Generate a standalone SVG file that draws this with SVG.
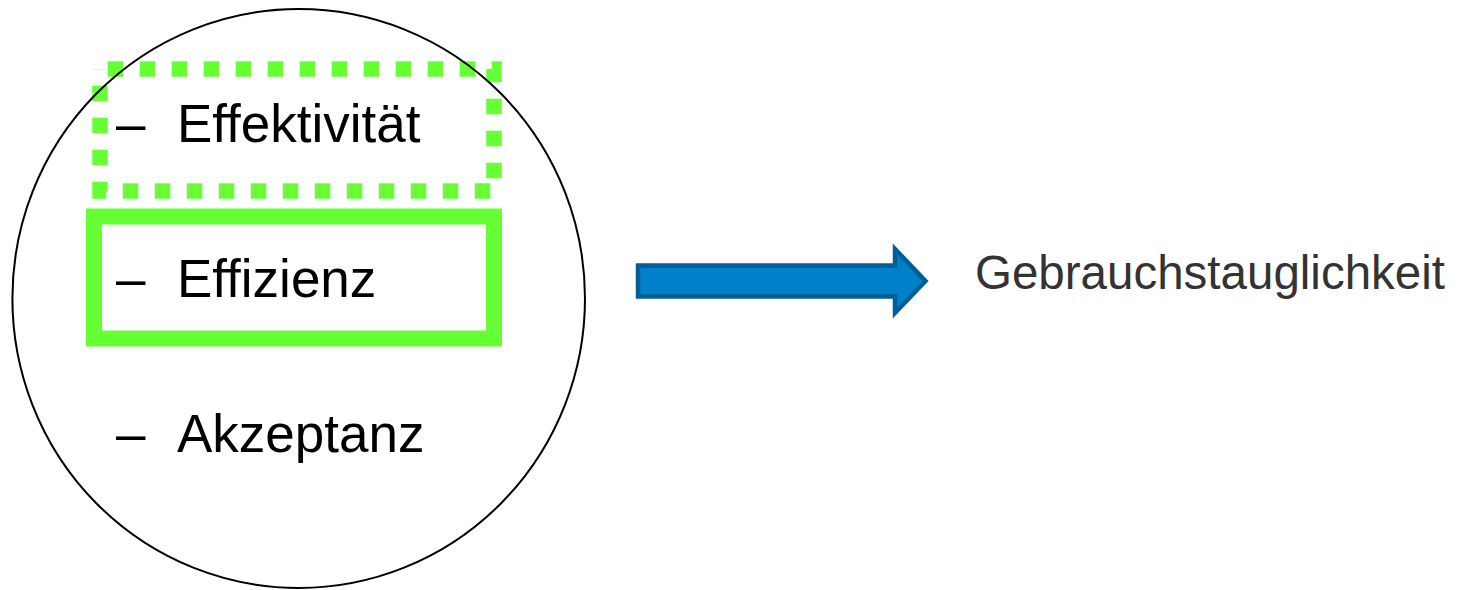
<svg xmlns="http://www.w3.org/2000/svg" width="1457" height="590" viewBox="0 0 1457 590">
  <style>
    .item { font-family: "Liberation Sans", Arial, sans-serif; font-size: 53px; fill: #000000; }
    .label { font-family: "Liberation Sans", Arial, sans-serif; font-size: 47.5px; fill: #333333; }
    .green { fill: none; stroke: #66FF33; }
  </style>
  <rect width="1457" height="590" fill="#ffffff"/>
  <g id="node-effektivitaet">
    <rect class="green" x="100" y="69" width="394" height="122" stroke-width="15.5" stroke-dasharray="15.5 16.5" stroke-dashoffset="24.3"/>
    <text class="item" x="116" y="142">–</text>
    <text class="item" x="177" y="142">Effektivität</text>
  </g>
  <g id="node-effizienz">
    <rect class="green" x="94" y="216.5" width="400" height="122" stroke-width="16"/>
    <text class="item" x="116" y="297">–</text>
    <text class="item" x="177" y="297">Effizienz</text>
  </g>
  <g id="node-akzeptanz">
    <text class="item" x="116" y="452">–</text>
    <text class="item" x="177" y="452">Akzeptanz</text>
  </g>
  <g id="node-circle">
    <ellipse cx="298.7" cy="298.5" rx="286.3" ry="289.5" fill="none" stroke="#000000" stroke-width="2"/>
  </g>
  <g id="connectors">
    <path d="M638,265.5 L895,265.5 L895,249 L925.5,281 L895,313 L895,296.5 L638,296.5 Z" fill="#0080C8" stroke="#005E96" stroke-width="4.5" stroke-linejoin="miter"/>
  </g>
  <g id="node-gebrauchstauglichkeit">
    <text class="label" x="975" y="289">Gebrauchstauglichkeit</text>
  </g>
</svg>
